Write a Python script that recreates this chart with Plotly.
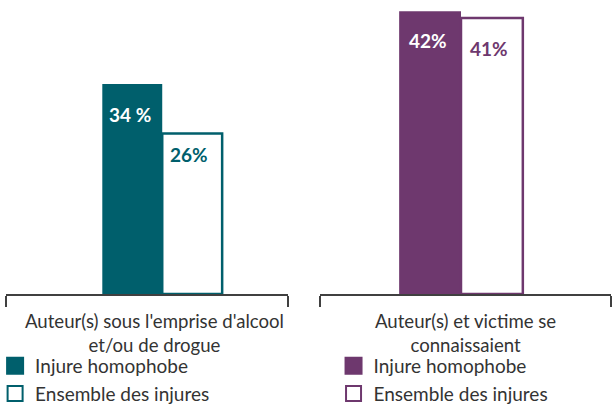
import plotly.graph_objects as go

# ---- data ----
categories = ["Auteur(s) sous l'emprise d'alcool<br>et/ou de drogue",
              "Auteur(s) et victime se<br>connaissaient"]
series_names = ["Injure homophobe", "Ensemble des injures"]
homophobe = [34, 42]
ensemble = [26, 41]
labels_homophobe = ["34 %", "42%"]
labels_ensemble = ["26%", "41%"]

# ---- style ----
colors = ["#005F6C", "#6E386E"]
text_dark = "#333333"
font_family = "Lato, 'Open Sans', sans-serif"
bargap = 0.575
xdomains = [[6 / 612, 288 / 612], [320 / 612, 611 / 612]]
xranges = [[-0.554, 0.446], [-0.4845, 0.5155]]
yranges = [[0, 46], [0, 42.2]]
ydomain = [1 - 294 / 405, 1 - 10 / 405]
label_x = [0.528, 0.5]
shift_h = [-30, -29]
shift_e = [-21, -30]
legend_x = [-0.008, 0.545]

fig = go.Figure()
axes = [("x", "y"), ("x2", "y2")]
legends = ["legend", "legend2"]
w = (1 - bargap) / 2

for i in range(2):
    xa, ya = axes[i]
    c = colors[i]
    fig.add_trace(go.Bar(x=[0], y=[homophobe[i]], xaxis=xa, yaxis=ya,
                         marker=dict(color=c, line=dict(width=0)),
                         showlegend=False, hoverinfo="skip"))
    fig.add_trace(go.Bar(x=[0], y=[ensemble[i]], xaxis=xa, yaxis=ya,
                         marker=dict(color="white", line=dict(color=c, width=2.5)),
                         showlegend=False, hoverinfo="skip"))
    # legend proxies
    fig.add_trace(go.Scatter(x=[None], y=[None], xaxis=xa, yaxis=ya, mode="markers",
                             name=series_names[0], legend=legends[i], legendgroup=f"a{i}",
                             marker=dict(symbol="square", size=16, color=c,
                                         line=dict(color=c, width=2))))
    fig.add_trace(go.Scatter(x=[None], y=[None], xaxis=xa, yaxis=ya, mode="markers",
                             name=series_names[1], legend=legends[i], legendgroup=f"b{i}",
                             marker=dict(symbol="square", size=15, color="white",
                                         line=dict(color=c, width=2))))
    # value labels
    fig.add_annotation(x=-w / 2, y=homophobe[i], xref=xa, yref=ya, text=f"<b>{labels_homophobe[i]}</b>",
                       showarrow=False, yanchor="middle", yshift=shift_h[i], xshift=-2,
                       font=dict(size=19, color="white", family=font_family))
    fig.add_annotation(x=w / 2, y=ensemble[i], xref=xa, yref=ya, text=f"<b>{labels_ensemble[i]}</b>",
                       showarrow=False, yanchor="middle", yshift=shift_e[i], xshift=-3,
                       font=dict(size=19, color=c, family=font_family))
    # category label
    fig.add_annotation(x=label_x[i], y=0, xref=f"{xa} domain", yref=f"{ya} domain",
                       text=categories[i], showarrow=False, yanchor="middle", yshift=-39,
                       font=dict(size=18.6, color=text_dark, family=font_family))

axis_common = dict(showline=True, linecolor="#404040", linewidth=2, ticks="outside",
                   ticklen=11, tickwidth=2, tickcolor="#404040", showticklabels=False,
                   showgrid=False, zeroline=False, tickmode="array", fixedrange=True)
yaxis_common = dict(visible=False, showgrid=False, zeroline=False, fixedrange=True, domain=ydomain)

legend_common = dict(y=1 - 347 / 405, yanchor="top", xanchor="left", bgcolor="rgba(0,0,0,0)",
                     font=dict(size=19, color=text_dark, family=font_family),
                     tracegroupgap=0, traceorder="normal")

fig.update_layout(
    width=612, height=405,
    margin=dict(l=0, r=0, t=0, b=0, autoexpand=False),
    paper_bgcolor="white", plot_bgcolor="white",
    barmode="group", bargap=bargap, bargroupgap=0,
    showlegend=True,
    xaxis=dict(domain=xdomains[0], range=xranges[0], tickvals=xranges[0], **axis_common),
    xaxis2=dict(domain=xdomains[1], range=xranges[1], tickvals=xranges[1], anchor="y2", **axis_common),
    yaxis=dict(range=yranges[0], anchor="x", **yaxis_common),
    yaxis2=dict(range=yranges[1], anchor="x2", **yaxis_common),
    legend=dict(x=legend_x[0], **legend_common),
    legend2=dict(x=legend_x[1], **legend_common),
    font=dict(family=font_family, color=text_dark),
)

fig.write_html("out.html", config={"displayModeBar": False},
               post_script="document.body.style.margin='0';document.body.style.overflow='hidden';")
